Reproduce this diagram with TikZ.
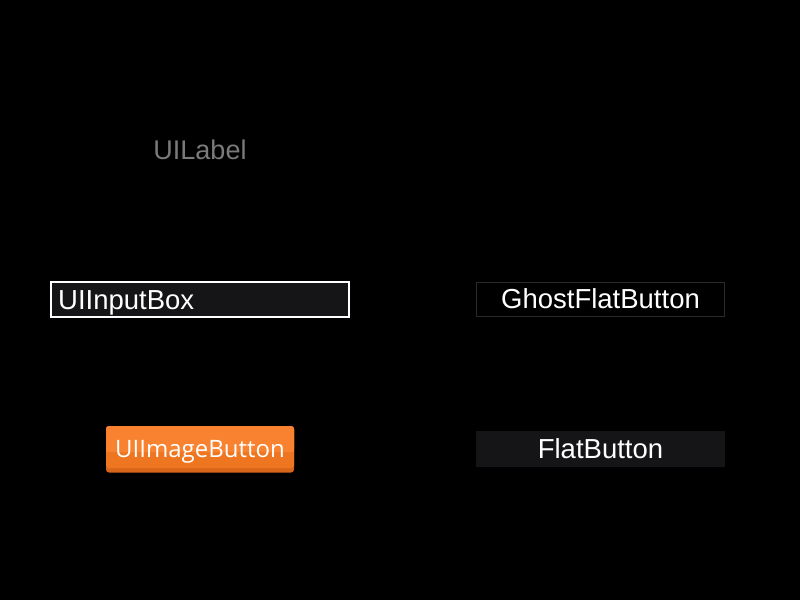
\documentclass[tikz,border=0pt]{standalone}
\usepackage{fontspec}
\setmainfont{Liberation Sans}
\newfontfamily\btnfont{Open Sans}
\definecolor{boxfill}{HTML}{151417}
\definecolor{labelgray}{HTML}{7A7A7A}
\definecolor{ghostedge}{HTML}{2A2A2A}
\definecolor{orangetop}{HTML}{F8822F}
\definecolor{orangelow}{HTML}{EE7621}
\definecolor{orangeedge}{HTML}{D8661A}
\tikzset{
  uitext/.style={font=\fontsize{27.5}{30}\selectfont, text=white, inner sep=0pt},
}
\begin{document}
\begin{tikzpicture}[x=1pt,y=-1pt]
\fill[black] (0,0) rectangle (800,600);
\useasboundingbox (0,0) rectangle (800,600);
% UILabel
\node[font=\fontsize{27}{30}\selectfont, text=labelgray, inner sep=0pt, anchor=base] (label) at (200,159) {UILabel};
% UIInputBox
\draw[fill=boxfill, draw=white, line width=2pt] (51,282) rectangle (349,317);
\node[uitext, anchor=base west] (input) at (58,309) {UIInputBox};
% GhostFlatButton
\draw[fill=black, draw=ghostedge, line width=1.2pt] (476.5,282.5) rectangle (724.5,316.5);
\node[uitext, anchor=base] (ghost) at (600.5,308) {GhostFlatButton};
% FlatButton
\fill[boxfill] (476,431) rectangle (725,467);
\node[uitext, anchor=base] (flat) at (600.5,458.5) {FlatButton};
% UIImageButton
\fill[orangeedge, rounded corners=3pt] (106,426) rectangle (294,472.5);
\fill[orangelow, rounded corners=3pt] (106,426) rectangle (294,468);
\fill[orangetop, rounded corners=3pt] (106,426) rectangle (294,452);
\fill[orangetop] (106,448) rectangle (294,452);
\node[font=\btnfont\fontsize{24}{26}\selectfont, text=white, inner sep=0pt, anchor=base] (imgbtn) at (200,457) {UIImageButton};
\end{tikzpicture}
\end{document}
